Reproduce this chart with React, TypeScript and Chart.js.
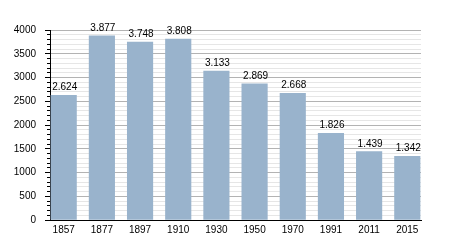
import React, { useEffect, useRef } from "react";
import { Chart, registerables } from "chart.js";

Chart.register(...registerables);

const categories = ["1857", "1877", "1897", "1910", "1930", "1950", "1970", "1991", "2011", "2015"];
const population = [2624, 3877, 3748, 3808, 3133, 2869, 2668, 1826, 1439, 1342];
const yMax = 4000;
const yMinorStep = 100;
const yMajorStep = 500;

const FONT = "'Liberation Sans', Arial, sans-serif";
const BAR_COLOR = "#99b3cc";
const MAJOR_GRID = "#b3b3b3";
const MINOR_GRID = "#e6e6e6";

function fmt(v: number): string {
  return String(v).replace(/\B(?=(\d{3})+(?!\d))/g, ".");
}

const valueLabels = {
  id: "valueLabels",
  afterDatasetsDraw(chart: any) {
    const ctx = chart.ctx;
    const meta = chart.getDatasetMeta(0);
    ctx.save();
    ctx.font = `10px ${FONT}`;
    ctx.fillStyle = "#000";
    ctx.textAlign = "center";
    ctx.textBaseline = "alphabetic";
    meta.data.forEach((bar: any, i: number) => {
      ctx.fillText(fmt(population[i]), bar.x + 1, bar.y - 5);
    });
    ctx.restore();
  },
};

const yTickMarks = {
  id: "yTickMarks",
  afterDraw(chart: any) {
    const ctx = chart.ctx;
    const y = chart.scales.y;
    const x0 = chart.chartArea.left;
    ctx.save();
    ctx.strokeStyle = "#000";
    ctx.lineWidth = 1;
    ctx.beginPath();
    y.ticks.forEach((t: any) => {
      const py = Math.round(y.getPixelForValue(t.value) - 0.5) + 0.5;
      const len = t.value % yMajorStep === 0 ? 5 : 3;
      ctx.moveTo(x0 - len, py);
      ctx.lineTo(x0, py);
    });
    ctx.stroke();
    ctx.restore();
  },
};

export default function App() {
  const ref = useRef<HTMLCanvasElement | null>(null);

  useEffect(() => {
    if (!ref.current) return;
    const pad = 0.359;
    const chart = new Chart(ref.current, {
      type: "bar",
      data: {
        datasets: [
          {
            data: population.map((v, i) => ({ x: i, y: v })),
            backgroundColor: BAR_COLOR,
            borderWidth: 0,
            barThickness: 25.5,
          },
        ],
      },
      options: {
        responsive: false,
        animation: false,
        layout: { padding: { top: 30, right: 29, left: 0, bottom: 0 } },
        plugins: {
          legend: { display: false },
          tooltip: { enabled: false },
        },
        scales: {
          x: {
            type: "linear",
            offset: false,
            min: -pad,
            max: categories.length - 1 + pad,
            afterBuildTicks: (scale: any) => {
              scale.ticks = categories.map((_, i) => ({ value: i }));
            },
            afterFit: (scale: any) => {
              scale.height = 30;
            },
            ticks: {
              autoSkip: false,
              maxRotation: 0,
              padding: 4,
              color: "#000",
              font: { family: FONT, size: 10 },
              callback: (v: any) => categories[v as number] ?? "",
            },
            grid: { display: false, drawTicks: false, offset: false },
            border: { display: true, color: "#000", width: 1 },
          },
          y: {
            type: "linear",
            min: 0,
            max: yMax,
            afterFit: (scale: any) => {
              scale.width = 50;
            },
            ticks: {
              stepSize: yMinorStep,
              autoSkip: false,
              padding: 14,
              color: "#000",
              font: { family: FONT, size: 10 },
              callback: (v: any) => ((v as number) % yMajorStep === 0 ? String(v) : ""),
            },
            grid: {
              drawTicks: false,
              color: (c: any) =>
                c.tick && c.tick.value % yMajorStep === 0 ? MAJOR_GRID : MINOR_GRID,
            },
            border: { display: true, color: "#000", width: 1 },
          },
        },
      },
      plugins: [valueLabels, yTickMarks],
    });
    return () => chart.destroy();
  }, []);

  return (
    <div style={{ position: "absolute", left: 0, top: 0, width: 450, height: 250, background: "#fff" }}>
      <canvas ref={ref} width={450} height={250} />
    </div>
  );
}
